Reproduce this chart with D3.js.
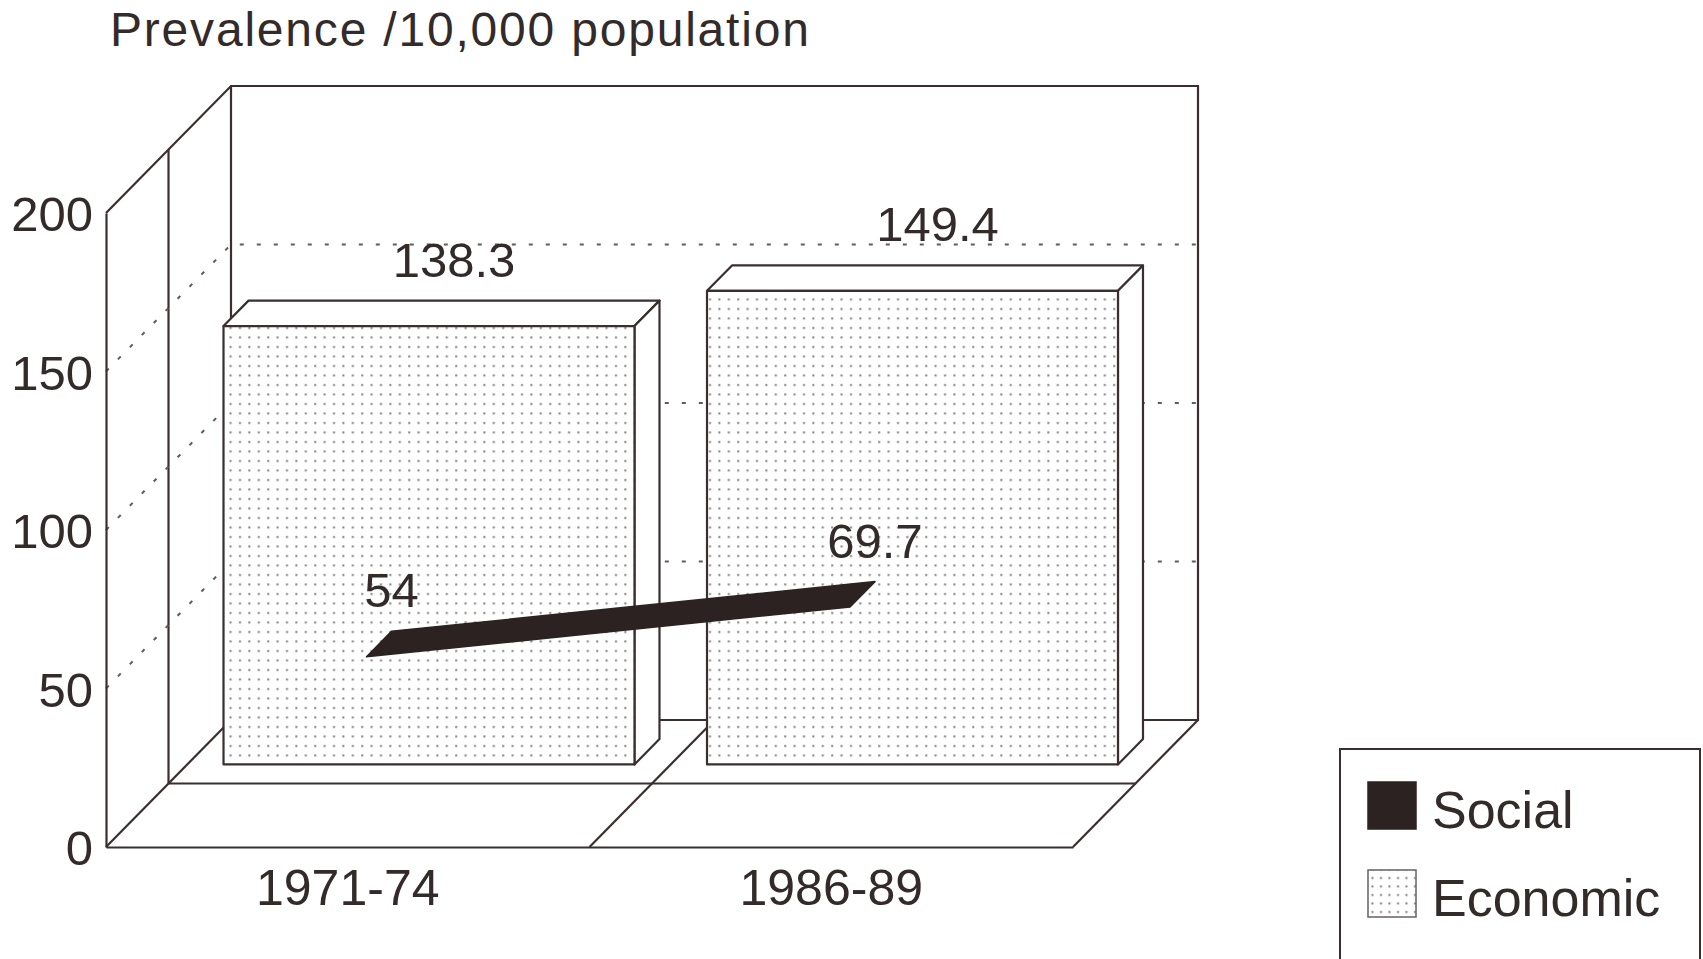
<!DOCTYPE html>
<html>
<head>
<meta charset="utf-8">
<script src="https://cdn.jsdelivr.net/npm/d3@7"></script>
<style>
  html, body { margin: 0; padding: 0; background: #ffffff; }
  svg { display: block; }
  text { font-family: "Liberation Sans", Arial, Helvetica, sans-serif; fill: #332a2a; }
</style>
</head>
<body>
<svg id="chart" width="1703" height="959"></svg>
<script>
// ---- data ----
const categories = ["1971-74", "1986-89"];
const seriesNames = ["Social", "Economic"];
const socialValues = [54, 69.7];
const economicValues = [138.3, 149.4];
const valueTicks = [0, 50, 100, 150, 200];
const gridValues = [50, 100, 150];
const titleText = "Prevalence /10,000 population";

// ---- look ----
const INK = "#3a2f2f";
const DARK = "#2c2222";
const DOT = "#857b7b";

const svg = d3.select("#chart");

// front-plane scales
const x = d3.scaleBand().domain(categories).range([106, 1073]).padding(0);
const y = d3.scaleLinear().domain([0, 200]).range([847, 213]);
// depth: each series gets half of the floor depth (Social in front, Economic behind)
const depth = d3.scaleBand().domain(seriesNames).range([0, 1]);
const DX = 125, DY = -127;   // offset of the back wall from the front plane
const proj = (xf, v, t) => [xf + DX * t, y(v) + DY * t];
const slabHalf = 0.1;        // half depth of a bar / ribbon
const barHalfWidth = x.bandwidth() * 0.425;

// dot fill pattern for the Economic series
const defs = svg.append("defs");
const pat = defs.append("pattern").attr("id", "dots")
  .attr("patternUnits", "userSpaceOnUse").attr("width", 9.4).attr("height", 9.5);
pat.append("rect").attr("width", 9.4).attr("height", 9.5).attr("fill", "#ffffff");
pat.append("rect").attr("x", 4).attr("y", 4).attr("width", 2).attr("height", 2).attr("fill", DOT);

const pat2 = defs.append("pattern").attr("id", "dotsLegend")
  .attr("patternUnits", "userSpaceOnUse").attr("width", 8.5).attr("height", 8.5)
  .attr("x", 1368).attr("y", 870);
pat2.append("rect").attr("width", 8.5).attr("height", 8.5).attr("fill", "#ffffff");
pat2.append("rect").attr("x", 4).attr("y", 4).attr("width", 2).attr("height", 2).attr("fill", DOT);

const line = d3.line();
const frame = svg.append("g").attr("fill", "none").attr("stroke", INK).attr("stroke-width", 2.2);

// dotted gridlines: across the left wall, then along the back wall
const x0 = x.range()[0], x1 = x.range()[1];
svg.append("g").selectAll("path").data(gridValues).join("path")
  .attr("d", v => line([proj(x0, v, 0), proj(x0, v, 1), proj(x1, v, 1)]))
  .attr("fill", "none").attr("stroke", "#655a5a").attr("stroke-width", 2)
  .attr("stroke-dasharray", "4,13");

// walls and floor
const wallLines = [
  [proj(x0, 200, 0), proj(x0, 200, 1), proj(x1, 200, 1), proj(x1, 0, 1), proj(x0, 0, 1), proj(x0, 200, 1)],
  [proj(x0, 0, 0.5), proj(x0, 200, 0.5)],
  [proj(x0, 0, 0.5), proj(x1, 0, 0.5)],
  [proj(x0, 0, 0), proj(x0, 0, 1)],
  [proj(x1, 0, 0), proj(x1, 0, 1)],
  [proj(x(categories[1]), 0, 0), proj(x(categories[1]), 0, 1)]
];
frame.selectAll("path").data(wallLines).join("path").attr("d", d => line(d));

// value axis (its domain line is the front vertical edge)
const yAxis = svg.append("g").attr("transform", `translate(${x0},0)`)
  .call(d3.axisLeft(y).tickValues(valueTicks).tickSize(0).tickSizeOuter(0).tickPadding(13));
yAxis.select(".domain").attr("stroke", INK).attr("stroke-width", 2.2);
yAxis.selectAll("text").attr("font-size", 49).attr("fill", "#332a2a")
  .attr("font-family", "Liberation Sans, Arial, sans-serif").attr("dy", "0.36em");

// category axis (its domain line is the front floor edge)
const xAxis = svg.append("g").attr("transform", `translate(0,${y(0)})`)
  .call(d3.axisBottom(x).tickSize(0).tickSizeOuter(0).tickPadding(22));
xAxis.select(".domain").attr("stroke", INK).attr("stroke-width", 2.2);
xAxis.selectAll("text").attr("font-size", 50).attr("fill", "#332a2a")
  .attr("font-family", "Liberation Sans, Arial, sans-serif");

// Economic series: 3D bars
const econMid = depth("Economic") + depth.bandwidth() / 2;
const tf = econMid - slabHalf, tb = econMid + slabHalf;
const bars = svg.append("g").selectAll("g")
  .data(categories.map((c, i) => ({ c, v: economicValues[i] })))
  .join("g")
  .attr("stroke", INK).attr("stroke-width", 2.2).attr("stroke-linejoin", "round");
bars.each(function (d) {
  const g = d3.select(this);
  const xc = x(d.c) + x.bandwidth() / 2;
  const L = xc - barHalfWidth, R = xc + barHalfWidth;
  // top face
  g.append("path").attr("fill", "#ffffff")
    .attr("d", line([proj(L, d.v, tf), proj(R, d.v, tf), proj(R, d.v, tb), proj(L, d.v, tb)]) + "Z");
  // right side face
  g.append("path").attr("fill", "#ffffff")
    .attr("d", line([proj(R, d.v, tf), proj(R, d.v, tb), proj(R, 0, tb), proj(R, 0, tf)]) + "Z");
  // front face
  g.append("path").attr("fill", "url(#dots)")
    .attr("d", line([proj(L, d.v, tf), proj(R, d.v, tf), proj(R, 0, tf), proj(L, 0, tf)]) + "Z");
});

// Social series: flat 3D ribbon line
const socMid = depth("Social") + depth.bandwidth() / 2;
const sf = socMid - slabHalf, sb = socMid + slabHalf;
const sPts = categories.map((c, i) => ({ xc: x(c) + x.bandwidth() / 2, v: socialValues[i] }));
for (let i = 0; i < sPts.length - 1; i++) {
  const a = sPts[i], b = sPts[i + 1];
  svg.append("path")
    .attr("d", line([proj(a.xc, a.v, sf), proj(b.xc, b.v, sf), proj(b.xc, b.v, sb), proj(a.xc, a.v, sb)]) + "Z")
    .attr("fill", DARK).attr("stroke", DARK).attr("stroke-width", 1.5).attr("stroke-linejoin", "round");
}

// value labels above the back-top point of each mark
const labels = svg.append("g").attr("font-size", 49).attr("text-anchor", "middle");
categories.forEach((c, i) => {
  const xc = x(c) + x.bandwidth() / 2;
  const pe = proj(xc, economicValues[i], tb);
  labels.append("text").attr("x", pe[0]).attr("y", pe[1] - 24).text(String(economicValues[i]));
  const ps = proj(xc, socialValues[i], sb);
  labels.append("text").attr("x", ps[0]).attr("y", ps[1] - 24).text(String(socialValues[i]));
});

// title
svg.append("text").attr("x", 110).attr("y", 46).attr("font-size", 48)
  .attr("letter-spacing", 1.8).text(titleText);

// legend
const lg = svg.append("g");
lg.append("rect").attr("x", 1340).attr("y", 749).attr("width", 360).attr("height", 260)
  .attr("fill", "#ffffff").attr("stroke", INK).attr("stroke-width", 2);
const legendItems = [
  { name: seriesNames[0], fill: DARK, stroke: DARK },
  { name: seriesNames[1], fill: "url(#dotsLegend)", stroke: "#6a6060" }
];
lg.selectAll("g.item").data(legendItems).join("g").attr("class", "item")
  .attr("transform", (d, i) => `translate(1368,${782 + i * 88})`)
  .each(function (d) {
    const g = d3.select(this);
    g.append("rect").attr("width", 48).attr("height", 47)
      .attr("fill", d.fill).attr("stroke", d.stroke).attr("stroke-width", 1.5);
    g.append("text").attr("x", 64).attr("y", 46).attr("font-size", 52).text(d.name);
  });
</script>
</body>
</html>
